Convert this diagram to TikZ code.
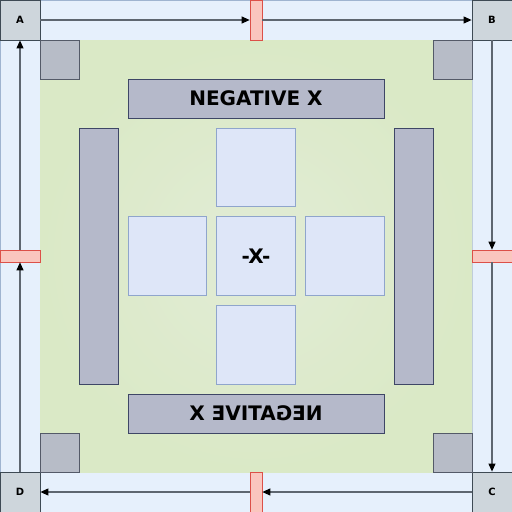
\documentclass[tikz,border=0pt]{standalone}
\usepackage{fontspec}
\setmainfont{DejaVu Sans}
\usepackage{tikz}
\usetikzlibrary{positioning, arrows.meta, calc}
\definecolor{stripc}{HTML}{E6F0FC}
\definecolor{stripe}{HTML}{9FB4D0}
\definecolor{cornc}{HTML}{CED6DC}
\definecolor{corne}{HTML}{3E4A54}
\definecolor{fieldc}{HTML}{DAE9C6}
\definecolor{fieldin}{HTML}{E2ECD6}
\definecolor{padc}{HTML}{B7BCC7}
\definecolor{pade}{HTML}{545A68}
\definecolor{barc}{HTML}{B5B9CA}
\definecolor{bare}{HTML}{3E4666}
\definecolor{tilec}{HTML}{DEE6F8}
\definecolor{tilee}{HTML}{8FA5CC}
\definecolor{mkc}{HTML}{FAC6BE}
\definecolor{mke}{HTML}{DC5048}
\definecolor{linec}{HTML}{5E6670}
\tikzset{
  crn/.style  = {draw=corne, fill=cornc, line width=0.8pt, minimum size=40pt,
                 inner sep=0pt, font=\fontsize{10}{12}\selectfont\bfseries},
  mk/.style   = {draw=mke, fill=mkc, line width=0.7pt, inner sep=0pt},
  pad/.style  = {draw=pade, fill=padc, line width=0.7pt, minimum size=39pt,
                 inner sep=0pt},
  bar/.style  = {draw=bare, fill=barc, line width=0.8pt, inner sep=0pt,
                 font=\fontsize{20}{22}\selectfont\bfseries},
  tile/.style = {draw=tilee, fill=tilec, line width=0.7pt, minimum size=78.5pt,
                 inner sep=0pt, font=\fontsize{20}{22}\selectfont\bfseries},
  ar/.style   = {draw=linec, line width=1.1pt,
                 -{Triangle[length=8pt, width=7pt, fill=black, color=black]}},
}
\begin{document}
\begin{tikzpicture}[x=1pt, y=-1pt]
  \useasboundingbox (0,0) rectangle (512,512);
  % strips and field
  \filldraw[fill=stripc, draw=stripe, line width=0.7pt] (0,0) rectangle (512,512);
  \draw[stripe!70, line width=0.5pt] (40,0) -- (40,512) (472,0) -- (472,512)
    (0,40) -- (512,40) (0,472) -- (512,472);
  \fill[inner color=fieldin, outer color=fieldc] (40,40) rectangle (472,472);

  % corner nodes
  \node[crn] (A) at (20,20)   {A};
  \node[crn] (B) at (492,20)  {B};
  \node[crn] (C) at (492,492) {C};
  \node[crn] (D) at (20,492)  {D};

  % midpoint markers
  \node[mk, minimum width=12pt, minimum height=40pt] (mT) at (256,20)  {};
  \node[mk, minimum width=40pt, minimum height=12pt] (mR) at (492,256) {};
  \node[mk, minimum width=12pt, minimum height=40pt] (mB) at (256,492) {};
  \node[mk, minimum width=40pt, minimum height=12pt] (mL) at (20,256)  {};

  % the loop A -> B -> C -> D -> A
  \draw[ar] (A.east)  -- (mT.west);  \draw[ar] (mT.east)  -- (B.west);
  \draw[ar] (B.south) -- (mR.north); \draw[ar] (mR.south) -- (C.north);
  \draw[ar] (C.west)  -- (mB.east);  \draw[ar] (mB.west)  -- (D.east);
  \draw[ar] (D.north) -- (mL.south); \draw[ar] (mL.north) -- (A.south);

  % pads in the field corners
  \node[pad] (pA) at (59.5,59.5)   {};
  \node[pad] (pB) at (452.5,59.5)  {};
  \node[pad] (pC) at (452.5,452.5) {};
  \node[pad] (pD) at (59.5,452.5)  {};

  % bars
  \node[bar, minimum width=256pt, minimum height=39pt] (top) at (256,98.5) {NEGATIVE X};
  \node[bar, minimum width=256pt, minimum height=39pt] (bot) at (256,413.5)
    {\scalebox{-1}[1]{NEGATIVE X}};
  \node[bar, minimum width=39pt, minimum height=256pt] (lft) at (98.5,256) {};
  \node[bar, minimum width=39pt, minimum height=256pt] (rgt) at (413.5,256) {};

  % tiles
  \node[tile] (ctr) at (256,256) {-X-};
  \node[tile, above=9.5pt of ctr] (tN) {};
  \node[tile, below=9.5pt of ctr] (tS) {};
  \node[tile, left=9.5pt of ctr]  (tW) {};
  \node[tile, right=9.5pt of ctr] (tE) {};
\end{tikzpicture}
\end{document}
